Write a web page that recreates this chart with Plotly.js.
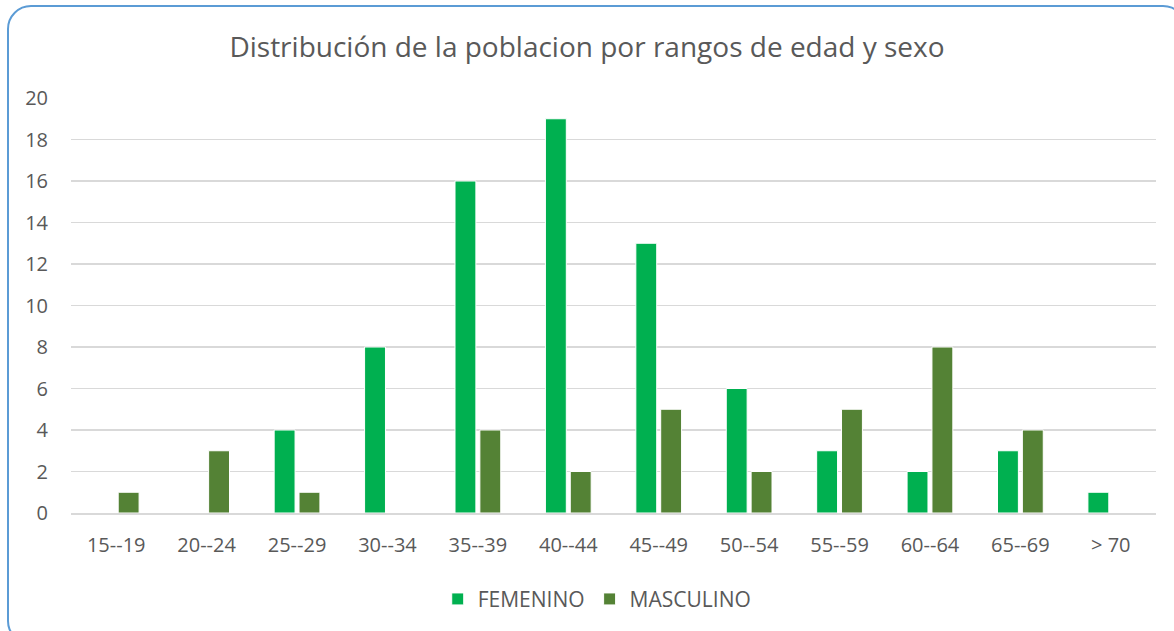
<!DOCTYPE html>
<html>
<head>
<meta charset="utf-8">
<script src="https://cdn.plot.ly/plotly-3.0.1.min.js"></script>
<style>
  html, body { margin: 0; padding: 0; overflow: hidden; background: #fff; }
  #chart { position: absolute; left: 0; top: 0; width: 1174px; height: 631px; }
  #frame { position: absolute; left: 7px; top: 5px; width: 1180px; height: 640px;
           border: 2px solid #5B9BD5; border-radius: 24px; box-sizing: border-box; pointer-events: none; }
</style>
</head>
<body>
<div id="chart"></div>
<div id="frame"></div>
<script>
const categories = ["15--19", "20--24", "25--29", "30--34", "35--39", "40--44", "45--49", "50--54", "55--59", "60--64", "65--69", "> 70"];
const femenino  = [0, 0, 4, 8, 16, 19, 13, 6, 3, 2, 3, 1];
const masculino = [1, 3, 1, 0, 4, 2, 5, 2, 5, 8, 4, 0];
const yTicks = [0, 2, 4, 6, 8, 10, 12, 14, 16, 18, 20];

const font = "Open Sans, Noto Sans, sans-serif";
const traces = [
  { type: "bar", name: "FEMENINO", x: categories, y: femenino,
    marker: { color: "#00B050", line: { color: "#ffffff", width: 1 } } },
  { type: "bar", name: "MASCULINO", x: categories, y: masculino,
    marker: { color: "#548235", line: { color: "#ffffff", width: 1 } } }
];
const layout = {
  width: 1174, height: 631,
  paper_bgcolor: "#ffffff", plot_bgcolor: "#ffffff",
  margin: { l: 71, r: 18, t: 98, b: 117 },
  title: { text: "Distribución de la poblacion por rangos de edad y sexo",
           font: { family: font, size: 28, color: "#595959" },
           x: 0.5, xanchor: "center", y: 0.925, yanchor: "middle" },
  barmode: "group", bargap: 0.45, bargroupgap: 0.16,
  showlegend: true,
  legend: { orientation: "h", x: 0.485, xanchor: "center", y: -0.205, yanchor: "middle",
            font: { family: font, size: 21, color: "#595959" },
            itemwidth: 30, traceorder: "normal" },
  xaxis: { type: "category", tickfont: { family: font, size: 20, color: "#595959" },
           showline: true, linecolor: "#D9D9D9", linewidth: 1.5, ticks: "", showgrid: false,
           ticklabelstandoff: 13, fixedrange: true },
  yaxis: { range: [0, 20], tickvals: yTicks, ticktext: yTicks.map(String),
           tickfont: { family: font, size: 20, color: "#595959" },
           showgrid: true, gridcolor: "#D9D9D9", gridwidth: 1.5, zeroline: false,
           showline: false, ticks: "", ticklabelstandoff: 22, fixedrange: true }
};
Plotly.newPlot("chart", traces, layout, { displayModeBar: false, staticPlot: true });
</script>
</body>
</html>
